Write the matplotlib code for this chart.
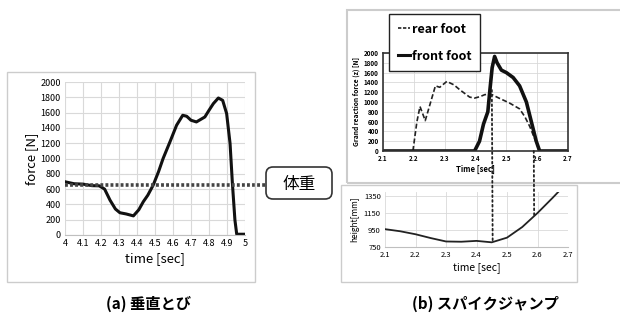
import numpy as np
import matplotlib.pyplot as plt
from matplotlib.patches import Rectangle, FancyBboxPatch, ConnectionPatch
from matplotlib.lines import Line2D

plt.rcParams['font.family'] = ['Noto Sans CJK JP', 'DejaVu Sans']

# (a) vertical jump force
t_a = [4.0, 4.05, 4.1, 4.15, 4.19, 4.22, 4.25, 4.28, 4.305, 4.34, 4.38, 4.41, 4.435, 4.46, 4.49,
       4.52, 4.545, 4.583, 4.62, 4.654, 4.676, 4.70, 4.73, 4.777, 4.80, 4.824, 4.852, 4.876,
       4.898, 4.917, 4.93, 4.944, 4.954, 5.0]
f_a = [696, 670, 665, 645, 643, 600, 456, 340, 291, 275, 250, 330, 435, 520, 652,
       830, 1000, 1217, 1435, 1565, 1552, 1500, 1478, 1543, 1630, 1717, 1791, 1760,
       1587, 1196, 674, 196, 10, 10]
body_weight = 650

# (b) spike jump ground reaction force
t_rear = [2.1, 2.197, 2.21, 2.22, 2.237, 2.25, 2.27, 2.284, 2.307, 2.33, 2.349, 2.381, 2.397, 2.415,
          2.43, 2.45, 2.476, 2.51, 2.543, 2.56, 2.576, 2.592, 2.603, 2.608, 2.7]
f_rear = [0, 0, 600, 908, 620, 900, 1330, 1300, 1420, 1350, 1250, 1100, 1080, 1110,
          1150, 1160, 1080, 980, 860, 700, 500, 250, 80, 0, 0]
t_front = [2.1, 2.397, 2.413, 2.426, 2.44, 2.446, 2.454, 2.462, 2.47, 2.484, 2.50, 2.522,
           2.543, 2.565, 2.581, 2.597, 2.608, 2.7]
f_front = [0, 0, 200, 550, 800, 1200, 1700, 1930, 1800, 1650, 1600, 1500,
           1330, 1000, 600, 200, 0, 0]

# (b) body height
t_h = [2.1, 2.15, 2.2, 2.25, 2.3, 2.35, 2.4, 2.45, 2.5, 2.55, 2.6, 2.65, 2.67]
h = [960, 935, 900, 855, 815, 812, 822, 805, 860, 985, 1150, 1330, 1405]
mark_times = [2.453, 2.589]

W, H = 620, 320
fig = plt.figure(figsize=(6.2, 3.2), dpi=100)


def box(x0, y0, x1, y1):
    return [x0 / W, 1 - y1 / H, (x1 - x0) / W, (y1 - y0) / H]


# panel frames
for (x0, y0, x1, y1, lw) in [(7, 72, 255, 282, 1.0), (347, 10, 622, 183, 1.5), (341, 185, 577, 282, 1.0)]:
    fig.patches.append(Rectangle((x0 / W, 1 - y1 / H), (x1 - x0) / W, (y1 - y0) / H,
                                 transform=fig.transFigure, fill=False, ec='#cccccc', lw=lw))

# ---- (a)
ax1 = fig.add_axes(box(65, 82, 245, 235))
ax1.plot(t_a, f_a, color='#111111', lw=2.2)
ax1.set_xlim(4, 5)
ax1.set_ylim(0, 2000)
ax1.set_xticks(np.arange(4, 5.01, 0.1))
ax1.set_xticklabels(['4', '4.1', '4.2', '4.3', '4.4', '4.5', '4.6', '4.7', '4.8', '4.9', '5'])
ax1.set_yticks(range(0, 2001, 200))
ax1.tick_params(labelsize=6.5, length=0, pad=3)
ax1.grid(color='#d9d9d9', lw=0.8)
ax1.set_axisbelow(True)
for s in ['top', 'right', 'left']:
    ax1.spines[s].set_visible(False)
ax1.spines['bottom'].set_color('#bfbfbf')
ax1.set_xlabel('time [sec]', fontsize=9.5, labelpad=3)
ax1.set_ylabel('force [N]', fontsize=9.5, labelpad=2)

# body weight line to label box
x_end = 4 + (266 - 65) / 180
ax1.plot([4, x_end], [body_weight, body_weight], ls=(0, (0.8, 0.6)), lw=2.6, color='#444444',
         clip_on=False)
fig.patches.append(FancyBboxPatch((2.66, 1.21), 0.66, 0.32, boxstyle='round,pad=0,rounding_size=0.07',
                                  transform=fig.dpi_scale_trans, fc='white', ec='#333333', lw=1.2))
fig.text(299 / W, 1 - 185 / H, '体重', fontsize=12, ha='center', va='center')

# ---- (b) force
ax2 = fig.add_axes(box(383, 53, 568, 151))
ax2.plot(t_rear, f_rear, color='#222222', lw=1.2, ls=(0, (3, 1.5)), label='rear foot')
ax2.plot(t_front, f_front, color='#111111', lw=2.6, label='front foot')
ax2.set_xlim(2.1, 2.7)
ax2.set_ylim(0, 2000)
ax2.set_xticks(np.arange(2.1, 2.71, 0.1))
ax2.set_xticklabels(['2.1', '2.2', '2.3', '2.4', '2.5', '2.6', '2.7'])
ax2.set_yticks(range(0, 2001, 200))
ax2.tick_params(labelsize=4.5, length=0, pad=3)
for lab in ax2.get_xticklabels() + ax2.get_yticklabels():
    lab.set_fontweight('bold')
ax2.grid(color='#d9d9d9', lw=0.6)
ax2.set_axisbelow(True)
for s in ax2.spines.values():
    s.set_color('#333333')
    s.set_linewidth(1.2)
ax2.set_xlabel('Time [sec]', fontsize=5.5, fontweight='bold', labelpad=2)
ax2.set_ylabel('Grand reaction force (z) [N]', fontsize=4.8, fontweight='bold', labelpad=3)
leg = ax2.legend(handles=[Line2D([], [], color='#222222', lw=1.2, ls=(0, (2, 1))),
                          Line2D([], [], color='#111111', lw=2.2)],
                 labels=['rear foot', 'front foot'], loc='upper left',
                 bbox_to_anchor=(389 / W, 1 - 14 / H), bbox_transform=fig.transFigure,
                 borderaxespad=0, fancybox=False, edgecolor='#222222', framealpha=1,
                 handlelength=1.0, handletextpad=0.1, labelspacing=1.1, borderpad=0.7,
                 prop={'size': 9, 'weight': 'bold', 'family': ['Noto Sans CJK JP', 'DejaVu Sans']})
leg.get_frame().set_linewidth(1.0)
leg.set_zorder(10)

# ---- (b) height
ax3 = fig.add_axes(box(385, 192, 568, 247))
ax3.plot(t_h, h, color='#222222', lw=1.3)
ax3.set_xlim(2.1, 2.7)
ax3.set_ylim(750, 1397)
ax3.set_xticks(np.arange(2.1, 2.71, 0.1))
ax3.set_xticklabels(['2.1', '2.2', '2.3', '2.4', '2.5', '2.6', '2.7'])
ax3.set_yticks([750, 950, 1150, 1350])
ax3.tick_params(labelsize=5.5, length=0, pad=3)
ax3.grid(color='#d9d9d9', lw=0.6)
ax3.set_axisbelow(True)
for s in ['top', 'right', 'left']:
    ax3.spines[s].set_visible(False)
ax3.spines['bottom'].set_color('#bfbfbf')
ax3.set_xlabel('time [sec]', fontsize=7.5, labelpad=2)
ax3.set_ylabel('height[mm]', fontsize=6, labelpad=3)

# dotted connectors between force and height charts
starts = [1245, 0]
for tm, y0 in zip(mark_times, starts):
    yh = np.interp(tm, t_h, h)
    con = ConnectionPatch(xyA=(tm, y0), coordsA=ax2.transData, xyB=(tm, yh), coordsB=ax3.transData,
                          ls=':', lw=1.3, color='#222222', zorder=5)
    fig.add_artist(con)

fig.text(148 / W, 1 - 304 / H, '(a) 垂直とび', fontsize=11, fontweight='bold', ha='center', va='center')
fig.text(485 / W, 1 - 304 / H, '(b) スパイクジャンプ', fontsize=11, fontweight='bold', ha='center', va='center')

fig.savefig('out.png', dpi=100)
